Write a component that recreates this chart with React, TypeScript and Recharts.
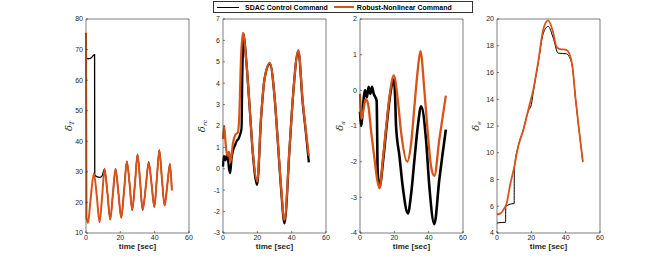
import React from 'react';
import { LineChart, Line, XAxis, YAxis } from 'recharts';

// time ticks shared by all four panels
const timeTicks = [0, 20, 40, 60];

// delta_T (thrust)
const thrustSdacTime = [0, 1, 3, 4.9, 5, 5.1, 6, 8, 9.5, 10.8, 12.5, 14.1, 15.7, 17.2, 18.9, 20.5, 22.2, 23.8, 25.4, 26.9, 28.5, 30, 31.5, 33, 34.8, 36.5, 38.2, 39.8, 41.3, 42.7, 44.2, 45.8, 47.4, 48.9, 50];
const thrustSdacValue = [67.5, 67, 67.3, 68.3, 68.3, 29, 28.5, 28.2, 28.8, 31, 23, 14.4, 23, 31, 23, 15, 24, 33.5, 26, 17.5, 26, 35.8, 27, 17.5, 25, 33.3, 26, 18.5, 28, 37.2, 28, 19, 26, 32.6, 24];
const thrustRobustTime = [0, 0.3, 1.2, 2.5, 4.6, 6.3, 7.9, 9.4, 10.8, 12.5, 14.1, 15.7, 17.2, 18.9, 20.5, 22.2, 23.8, 25.4, 26.9, 28.5, 30, 31.5, 33, 34.8, 36.5, 38.2, 39.8, 41.3, 42.7, 44.2, 45.8, 47.4, 48.9, 50];
const thrustRobustValue = [75.5, 15, 13.3, 20, 29.5, 22, 13.5, 22, 30.8, 23, 14.4, 23, 31, 23, 15, 24, 33.3, 26, 17.5, 26, 35.6, 27, 17.5, 25, 33, 26, 18.5, 28, 37, 28, 19, 26, 32.6, 24];

// delta_rc
const rudderSdacTime = [0, 0.5, 1.5, 2.5, 3.5, 4.2, 5, 6, 7, 8, 9, 10, 10.8, 11.3, 12, 13.5, 15.5, 17.4, 19.9, 22.2, 24.2, 27.3, 30, 31.9, 33.8, 35.8, 38.7, 40.6, 43.9, 46.4, 48.4, 50];
const rudderSdacValue = [0.1, 0.6, 0.4, 0.7, 0, -0.2, 0.5, 0.9, 1.1, 1.3, 1.4, 1.6, 1.9, 4.5, 6.3, 5.1, 2.9, 0.7, -0.75, 2.4, 4.2, 4.9, 3.4, 1.3, -0.9, -2.55, 0.85, 3.2, 5.5, 3.1, 1.6, 0.3];
const rudderRobustTime = [0, 0.7, 1.5, 2.5, 3.5, 4.3, 5.8, 7.3, 8.7, 9.5, 10.5, 11.6, 13.5, 15.5, 17.4, 19.9, 22.2, 24.2, 27.3, 30, 31.9, 33.8, 35.8, 38.7, 40.6, 43.9, 46.4, 48.4, 50];
const rudderRobustValue = [1.4, 2.0, 1.2, 0.6, 0.8, 0.3, 1.2, 1.6, 1.7, 2.5, 5.2, 6.35, 5.1, 2.9, 0.75, -0.6, 2.45, 4.2, 4.95, 3.4, 1.35, -0.8, -2.4, 0.9, 3.2, 5.55, 3.2, 1.7, 0.6];

// delta_a
const aileronSdacTime = [0, 0.8, 1.8, 3, 4, 5, 6, 7, 8, 9, 9.7, 10.3, 11.4, 13.5, 15.5, 17.5, 19.7, 20.4, 21, 23, 24.9, 27.9, 29.8, 31.7, 33.7, 35.6, 38.5, 40.4, 43.3, 46.2, 48.2, 50];
const aileronSdacValue = [-0.6, -1.0, -0.4, 0, -0.2, 0.1, -0.1, 0.1, -0.1, -0.2, -0.3, -2.3, -2.7, -1.95, -1.0, -0.15, 0.3, -0.1, -1.0, -1.85, -2.7, -3.45, -2.9, -1.95, -1.0, -0.45, -1.4, -2.7, -3.75, -2.5, -1.75, -1.1];
const aileronRobustTime = [0, 0.8, 2, 3.3, 4.6, 6.6, 8.5, 10, 11.4, 13.3, 15.3, 17.2, 19.7, 22, 24, 27.5, 29.8, 31.7, 33.5, 35.2, 37.5, 39.5, 41.3, 43.3, 46.2, 48.2, 50];
const aileronRobustValue = [-0.1, -0.8, -0.55, -0.25, -0.36, -1.2, -1.94, -2.5, -2.75, -1.94, -1.0, -0.17, 0.42, -0.26, -1.2, -2.0, -1.48, -0.45, 0.5, 1.1, 0, -1.2, -2.1, -2.4, -1.38, -0.73, -0.15];

// delta_e
const elevatorSdacTime = [0, 4.9, 5, 5.1, 9.9, 10, 10.1, 12.4, 15.3, 18.2, 20, 21.1, 24, 26.9, 29.8, 32.7, 35.6, 40.4, 42, 43.9, 45.8, 47.8, 50];
const elevatorSdacValue = [4.75, 4.8, 4.8, 6.0, 6.2, 6.2, 8.8, 10.5, 11.7, 13.1, 13.6, 14.5, 16.7, 18.9, 19.45, 18.6, 17.45, 17.4, 17.2, 16.4, 14, 11.7, 9.3];
const elevatorRobustTime = [0, 1.9, 4.3, 5.6, 7.5, 9.9, 12.4, 15.3, 18.2, 21.1, 24, 26.9, 29.8, 32.7, 34.6, 36.6, 40.4, 42, 43.9, 45.8, 47.8, 50];
const elevatorRobustValue = [5.4, 5.45, 5.86, 6.2, 7.5, 8.85, 10.5, 11.7, 13.2, 14.7, 16.8, 19.2, 19.9, 19.0, 17.95, 17.75, 17.7, 17.45, 16.5, 14.0, 11.7, 9.35];

const thrustTicks = [10, 20, 30, 40, 50, 60, 70, 80];
const rudderTicks = [-3, -2, -1, 0, 1, 2, 3, 4, 5, 6, 7];
const aileronTicks = [-4, -3, -2, -1, 0, 1, 2];
const elevatorTicks = [4, 6, 8, 10, 12, 14, 16, 18, 20];

const SDAC_COLOR = '#000000';
const ROBUST_COLOR = '#D95319';
const AXIS_COLOR = '#262626';
const FONT = '"Liberation Sans", Arial, Helvetica, sans-serif';

const toPoints = (t: number[], v: number[]) => t.map((time, i) => ({ time, value: v[i] }));

interface PanelProps {
  left: number;
  ticks: number[];
  symbol: string;
  sub: string;
  labelGap: number;
  sdac: { time: number; value: number }[];
  robust: { time: number; value: number }[];
  sdacWidth: number;
  robustWidth: number;
}

const AXIS_W = 36;
const PLOT_W = 103;

const Panel: React.FC<PanelProps> = ({ left, ticks, symbol, sub, labelGap, sdac, robust, sdacWidth, robustWidth }) => {
  const domain: [number, number] = [ticks[0], ticks[ticks.length - 1]];
  const tickStyle = { fontSize: 7, fill: AXIS_COLOR, fontFamily: FONT };
  const yLabel = (props: any) => {
    const vb = props.viewBox || {};
    const x = vb.x + vb.width - labelGap;
    const y = vb.y + vb.height / 2;
    return (
      <text x={x} y={y} transform={`rotate(-90 ${x} ${y})`} textAnchor="middle" fill={AXIS_COLOR} fontFamily="'DejaVu Serif', serif">
        <tspan fontSize={10} fontStyle="italic">{symbol}</tspan>
        <tspan fontSize={6} fontStyle="italic" dy={2}>{sub}</tspan>
      </text>
    );
  };
  return (
    <div style={{ position: 'absolute', left: left - AXIS_W, top: 0 }}>
      <LineChart width={AXIS_W + PLOT_W + 14} height={263} margin={{ top: 18, right: 13, bottom: 0, left: 0 }}>
        <XAxis
          dataKey="time"
          type="number"
          domain={[0, 60]}
          ticks={timeTicks}
          height={30}
          tickSize={-2}
          tickMargin={4}
          stroke={AXIS_COLOR}
          strokeWidth={0.6}
          tick={tickStyle}
          label={{ value: 'time [sec]', position: 'insideTop', offset: 10, fontSize: 8, fill: AXIS_COLOR, fontFamily: FONT, fontWeight: 'bold' }}
        />
        <XAxis
          xAxisId="top"
          orientation="top"
          dataKey="time"
          type="number"
          domain={[0, 60]}
          ticks={timeTicks}
          height={1}
          tickSize={-2}
          stroke={AXIS_COLOR}
          strokeWidth={0.6}
          tickFormatter={() => ''}
        />
        <YAxis
          type="number"
          domain={domain}
          ticks={ticks}
          width={AXIS_W}
          tickSize={-2}
          tickMargin={5}
          stroke={AXIS_COLOR}
          strokeWidth={0.6}
          tick={tickStyle}
          label={{ content: yLabel }}
        />
        <YAxis
          yAxisId="right"
          orientation="right"
          type="number"
          domain={domain}
          ticks={ticks}
          width={1}
          tickSize={-2}
          stroke={AXIS_COLOR}
          strokeWidth={0.6}
          tickFormatter={() => ''}
        />
        <Line data={sdac} dataKey="value" type="monotone" stroke={SDAC_COLOR} strokeWidth={sdacWidth} dot={false} isAnimationActive={false} />
        <Line data={robust} dataKey="value" type="monotone" stroke={ROBUST_COLOR} strokeWidth={robustWidth} dot={false} isAnimationActive={false} />
      </LineChart>
    </div>
  );
};

const LegendBox: React.FC = () => (
  <div
    style={{
      position: 'absolute',
      left: 213,
      top: 1,
      width: 258,
      height: 10,
      border: '1px solid #333',
      background: '#fff',
      display: 'flex',
      alignItems: 'center',
      fontFamily: FONT,
      fontSize: 7,
      fontWeight: 'bold',
      color: '#000',
      whiteSpace: 'nowrap',
    }}
  >
    <span style={{ display: 'inline-block', width: 22, height: 1, background: SDAC_COLOR, marginLeft: 3, marginRight: 6 }} />
    <span>SDAC Control Command</span>
    <span style={{ display: 'inline-block', width: 20, height: 1.5, background: ROBUST_COLOR, marginLeft: 6, marginRight: 3 }} />
    <span>Robust-Nonlinear Command</span>
  </div>
);

export default function App() {
  return (
    <div style={{ position: 'absolute', left: 0, top: 0, width: 664, height: 263, background: '#fff', overflow: 'hidden' }}>
      <Panel left={86} ticks={thrustTicks} symbol="δ" sub="T" labelGap={14} sdac={toPoints(thrustSdacTime, thrustSdacValue)} robust={toPoints(thrustRobustTime, thrustRobustValue)} sdacWidth={1.3} robustWidth={2} />
      <Panel left={223} ticks={rudderTicks} symbol="δ" sub="rc" labelGap={18} sdac={toPoints(rudderSdacTime, rudderSdacValue)} robust={toPoints(rudderRobustTime, rudderRobustValue)} sdacWidth={2.3} robustWidth={2.2} />
      <Panel left={360} ticks={aileronTicks} symbol="δ" sub="a" labelGap={17} sdac={toPoints(aileronSdacTime, aileronSdacValue)} robust={toPoints(aileronRobustTime, aileronRobustValue)} sdacWidth={2.6} robustWidth={2.3} />
      <Panel left={497} ticks={elevatorTicks} symbol="δ" sub="e" labelGap={18} sdac={toPoints(elevatorSdacTime, elevatorSdacValue)} robust={toPoints(elevatorRobustTime, elevatorRobustValue)} sdacWidth={1} robustWidth={1.8} />
      <LegendBox />
    </div>
  );
}
